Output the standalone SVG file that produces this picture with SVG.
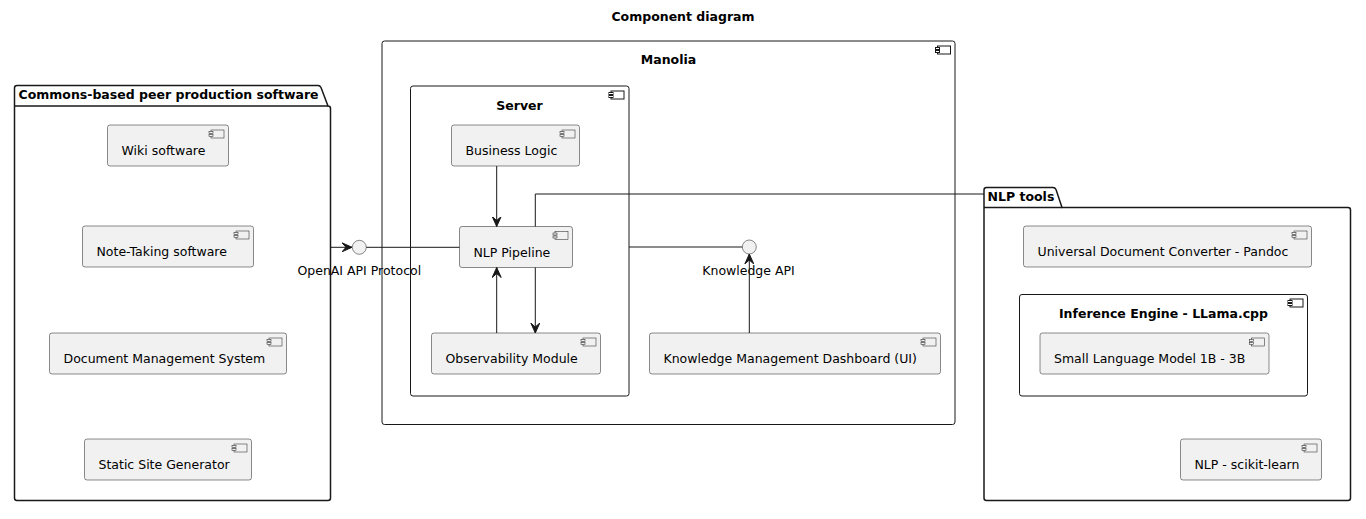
<svg xmlns="http://www.w3.org/2000/svg" xmlns:xlink="http://www.w3.org/1999/xlink" width="1366" height="519" viewBox="0 0 1366 519">
<style>
text{font-family:"DejaVu Sans","Liberation Sans",sans-serif;font-size:12.5px;fill:#000}
.b{font-weight:bold}
.c{text-anchor:middle}
.pkg{fill:none;stroke:#181818;stroke-width:1.5}
.cont{fill:#fff;stroke:#181818;stroke-width:1}
.comp{fill:#F1F1F1;stroke:#181818;stroke-width:0.5}
.ln{fill:none;stroke:#181818;stroke-width:1}
.arr{fill:none;stroke:#181818;stroke-width:1;marker-end:url(#ah)}
.ifc{fill:#F1F1F1;stroke:#181818;stroke-width:0.5}
</style>
<defs>
<marker id="ah" viewBox="-10 -5 12 10" refX="0" refY="0" markerWidth="12" markerHeight="10" markerUnits="userSpaceOnUse" orient="auto">
<path d="M0,0 L-10,-4.5 L-6,0 L-10,4.5 Z" fill="#181818" stroke="#181818" stroke-width="1"/>
</marker>
<g id="ci">
<rect x="0" y="0" width="13" height="8" fill="#F1F1F1" stroke="#181818" stroke-width="0.5"/>
<rect x="-2" y="1.5" width="4" height="2" fill="#F1F1F1" stroke="#181818" stroke-width="0.5"/>
<rect x="-2" y="4.5" width="4" height="2" fill="#F1F1F1" stroke="#181818" stroke-width="0.5"/>
</g>
<g id="cc">
<rect x="0" y="0" width="13" height="8" fill="#fff" stroke="#181818" stroke-width="1"/>
<rect x="-2" y="1.5" width="4" height="2" fill="#fff" stroke="#181818" stroke-width="1"/>
<rect x="-2" y="4.5" width="4" height="2" fill="#fff" stroke="#181818" stroke-width="1"/>
</g>
</defs>
<rect width="1366" height="519" fill="#fff"/>
<text class="b c" x="683" y="21">Component diagram</text>

<g id="pkg-commons">
<path class="pkg" d="M14.5,106 L14.5,88 Q14.5,85.5 17,85.5 L318,85.5 Q320,85.5 321,87.5 L328,106 L328,106 Q330.5,106 330.5,108.5 L330.5,498 Q330.5,500.5 328,500.5 L17,500.5 Q14.5,500.5 14.5,498 Z"/>
<line class="pkg" x1="14.5" y1="106" x2="328" y2="106"/>
<text class="b" x="18.5" y="98.5">Commons-based peer production software</text>
</g>
<g id="wiki">
<rect class="comp" x="107.5" y="125" width="121" height="41" rx="2.5"/>
<use xlink:href="#ci" x="211" y="130"/>
<text x="121.5" y="155">Wiki software</text>
</g>
<g id="notetaking">
<rect class="comp" x="82.5" y="226" width="171" height="41" rx="2.5"/>
<use xlink:href="#ci" x="236" y="231"/>
<text x="96.5" y="256">Note-Taking software</text>
</g>
<g id="dms">
<rect class="comp" x="49.5" y="333" width="237" height="41" rx="2.5"/>
<use xlink:href="#ci" x="269" y="338"/>
<text x="63.5" y="363">Document Management System</text>
</g>
<g id="ssg">
<rect class="comp" x="84.5" y="439" width="167" height="41" rx="2.5"/>
<use xlink:href="#ci" x="234" y="444"/>
<text x="98.5" y="469">Static Site Generator</text>
</g>

<g id="manolia">
<rect class="cont" x="382" y="41" width="573" height="383.5" rx="2.5"/>
<use xlink:href="#cc" x="937.5" y="46"/>
<text class="b c" x="668.5" y="64">Manolia</text>
</g>
<g id="server">
<rect class="cont" x="410.5" y="86" width="218.5" height="310" rx="2.5"/>
<use xlink:href="#cc" x="611" y="91"/>
<text class="b c" x="519.5" y="110">Server</text>
</g>
<g id="business">
<rect class="comp" x="451.5" y="125" width="128" height="41" rx="2.5"/>
<use xlink:href="#ci" x="562" y="130"/>
<text x="465.5" y="155">Business Logic</text>
</g>
<g id="nlppipeline">
<rect class="comp" x="459.5" y="226.5" width="113" height="41" rx="2.5"/>
<use xlink:href="#ci" x="555" y="231.5"/>
<text x="473.5" y="256.5">NLP Pipeline</text>
</g>
<g id="observability">
<rect class="comp" x="431.5" y="333" width="169" height="41" rx="2.5"/>
<use xlink:href="#ci" x="583" y="338"/>
<text x="445.5" y="363">Observability Module</text>
</g>
<g id="dashboard">
<rect class="comp" x="649.5" y="333" width="291" height="41" rx="2.5"/>
<use xlink:href="#ci" x="923" y="338"/>
<text x="663.5" y="363">Knowledge Management Dashboard (UI)</text>
</g>

<g id="pkg-nlptools">
<path class="pkg" d="M984,207.5 L984,190 Q984,187.5 986.5,187.5 L1053,187.5 Q1055,187.5 1056,189.5 L1062,207.5 L1348,207.5 Q1350.5,207.5 1350.5,210 L1350.5,498 Q1350.5,500.5 1348,500.5 L986.5,500.5 Q984,500.5 984,498 Z"/>
<line class="pkg" x1="984" y1="207.5" x2="1062" y2="207.5"/>
<text class="b" x="987.5" y="200.5">NLP tools</text>
</g>
<g id="pandoc">
<rect class="comp" x="1023.5" y="226" width="288" height="41" rx="2.5"/>
<use xlink:href="#ci" x="1294" y="231"/>
<text x="1037.5" y="256">Universal Document Converter - Pandoc</text>
</g>
<g id="inference">
<rect class="cont" x="1019.5" y="294.5" width="288" height="101.5" rx="2.5"/>
<use xlink:href="#cc" x="1290" y="299"/>
<text class="b c" x="1163.5" y="317.5">Inference Engine - LLama.cpp</text>
</g>
<g id="slm">
<rect class="comp" x="1040" y="333" width="229" height="41" rx="2.5"/>
<use xlink:href="#ci" x="1251.5" y="338"/>
<text x="1054" y="363">Small Language Model 1B - 3B</text>
</g>
<g id="sklearn">
<rect class="comp" x="1180.5" y="439" width="141" height="41" rx="2.5"/>
<use xlink:href="#ci" x="1304" y="444"/>
<text x="1194.5" y="469">NLP - scikit-learn</text>
</g>

<g id="openai-api">
<circle class="ifc" cx="359.3" cy="247.3" r="7"/>
<text class="c" x="359.3" y="274.5">OpenAI API Protocol</text>
</g>
<g id="knowledge-api">
<circle class="ifc" cx="749.3" cy="247" r="7"/>
<text class="c" x="748.5" y="274.5">Knowledge API</text>
</g>

<g id="connectors">
<path class="arr" d="M330.5,247.3 L352,247.3"/>
<path class="ln" d="M366.3,247.3 L459.5,247.3"/>
<path class="arr" d="M496.7,166 L496.7,226.5"/>
<path class="arr" d="M496.7,333 L496.7,267.5"/>
<path class="arr" d="M535.3,267.5 L535.3,333"/>
<path class="ln" d="M535.3,226.5 L535.3,194 L984,194"/>
<path class="ln" d="M629,247 L742.3,247"/>
<path class="arr" d="M749.3,333 L749.3,254"/>
</g>
</svg>
